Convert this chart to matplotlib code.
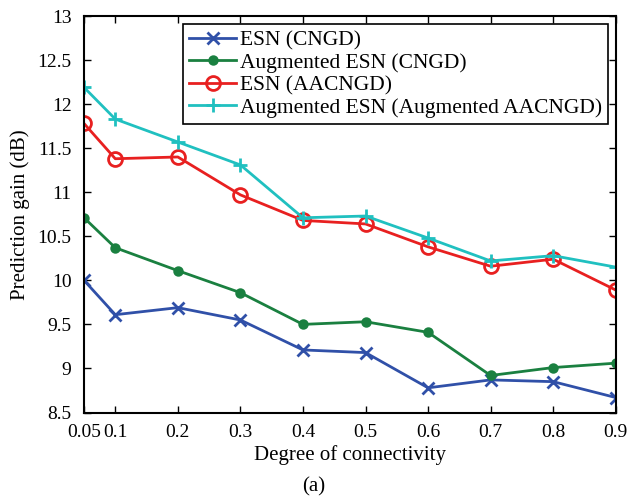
import matplotlib
matplotlib.use('Agg')
import matplotlib.pyplot as plt

plt.rcParams['font.family'] = ['Liberation Serif', 'DejaVu Serif']
plt.rcParams['mathtext.fontset'] = 'stix'

# degree of connectivity
conn = [0.05, 0.1, 0.2, 0.3, 0.4, 0.5, 0.6, 0.7, 0.8, 0.9]
# prediction gain (dB) for each model
esn_cngd = [10.0, 9.61, 9.69, 9.55, 9.21, 9.18, 8.78, 8.87, 8.85, 8.67]
aug_esn_cngd = [10.71, 10.37, 10.11, 9.86, 9.50, 9.53, 9.41, 8.92, 9.01, 9.06]
esn_aacngd = [11.78, 11.38, 11.40, 10.97, 10.68, 10.64, 10.38, 10.16, 10.24, 9.89]
aug_esn_aacngd = [12.19, 11.83, 11.57, 11.31, 10.71, 10.73, 10.48, 10.22, 10.28, 10.15]

xticks = [0.05, 0.1, 0.2, 0.3, 0.4, 0.5, 0.6, 0.7, 0.8, 0.9]
xticklabels = ['0.05', '0.1', '0.2', '0.3', '0.4', '0.5', '0.6', '0.7', '0.8', '0.9']
yticks = [8.5, 9, 9.5, 10, 10.5, 11, 11.5, 12, 12.5, 13]
yticklabels = ['8.5', '9', '9.5', '10', '10.5', '11', '11.5', '12', '12.5', '13']

fig = plt.figure(figsize=(6.27, 5), dpi=100)
ax = fig.add_axes([0.134, 0.175, 0.848, 0.793])

ax.plot(conn, esn_cngd, color='#3050a8', lw=2, marker='x', ms=8, mew=2,
        label='ESN (CNGD)')
ax.plot(conn, aug_esn_cngd, color='#1a8040', lw=2, marker='o', ms=6, mew=1.5,
        label='Augmented ESN (CNGD)')
ax.plot(conn, esn_aacngd, color='#e82020', lw=2, marker='o', ms=10, mew=2,
        mfc='none', label='ESN (AACNGD)')
ax.plot(conn, aug_esn_aacngd, color='#20c0c0', lw=2, marker='+', ms=10, mew=2,
        label='Augmented ESN (Augmented AACNGD)')

ax.set_xlim(0.05, 0.9)
ax.set_ylim(8.5, 13)
ax.set_xticks(xticks)
ax.set_xticklabels(xticklabels)
ax.set_yticks(yticks)
ax.set_yticklabels(yticklabels)
ax.tick_params(direction='in', top=True, right=True, labelsize=14, length=5, width=1)
ax.tick_params(axis='x', pad=8)
ax.tick_params(axis='y', pad=9)
for s in ax.spines.values():
    s.set_linewidth(1.5)

ax.set_xlabel('Degree of connectivity', fontsize=15, labelpad=3)
ax.set_ylabel('Prediction gain (dB)', fontsize=15, labelpad=5)
fig.text(0.5, 0.018, '(a)', ha='center', fontsize=15)

leg = ax.legend(loc='upper right', fontsize=15.5, handlelength=2.2, borderpad=0.28,
                labelspacing=0.12, handletextpad=0.15, fancybox=False, framealpha=1,
                borderaxespad=0.37)
leg.get_frame().set_edgecolor('black')
leg.get_frame().set_linewidth(1.2)

fig.savefig('out.png', dpi=100)
